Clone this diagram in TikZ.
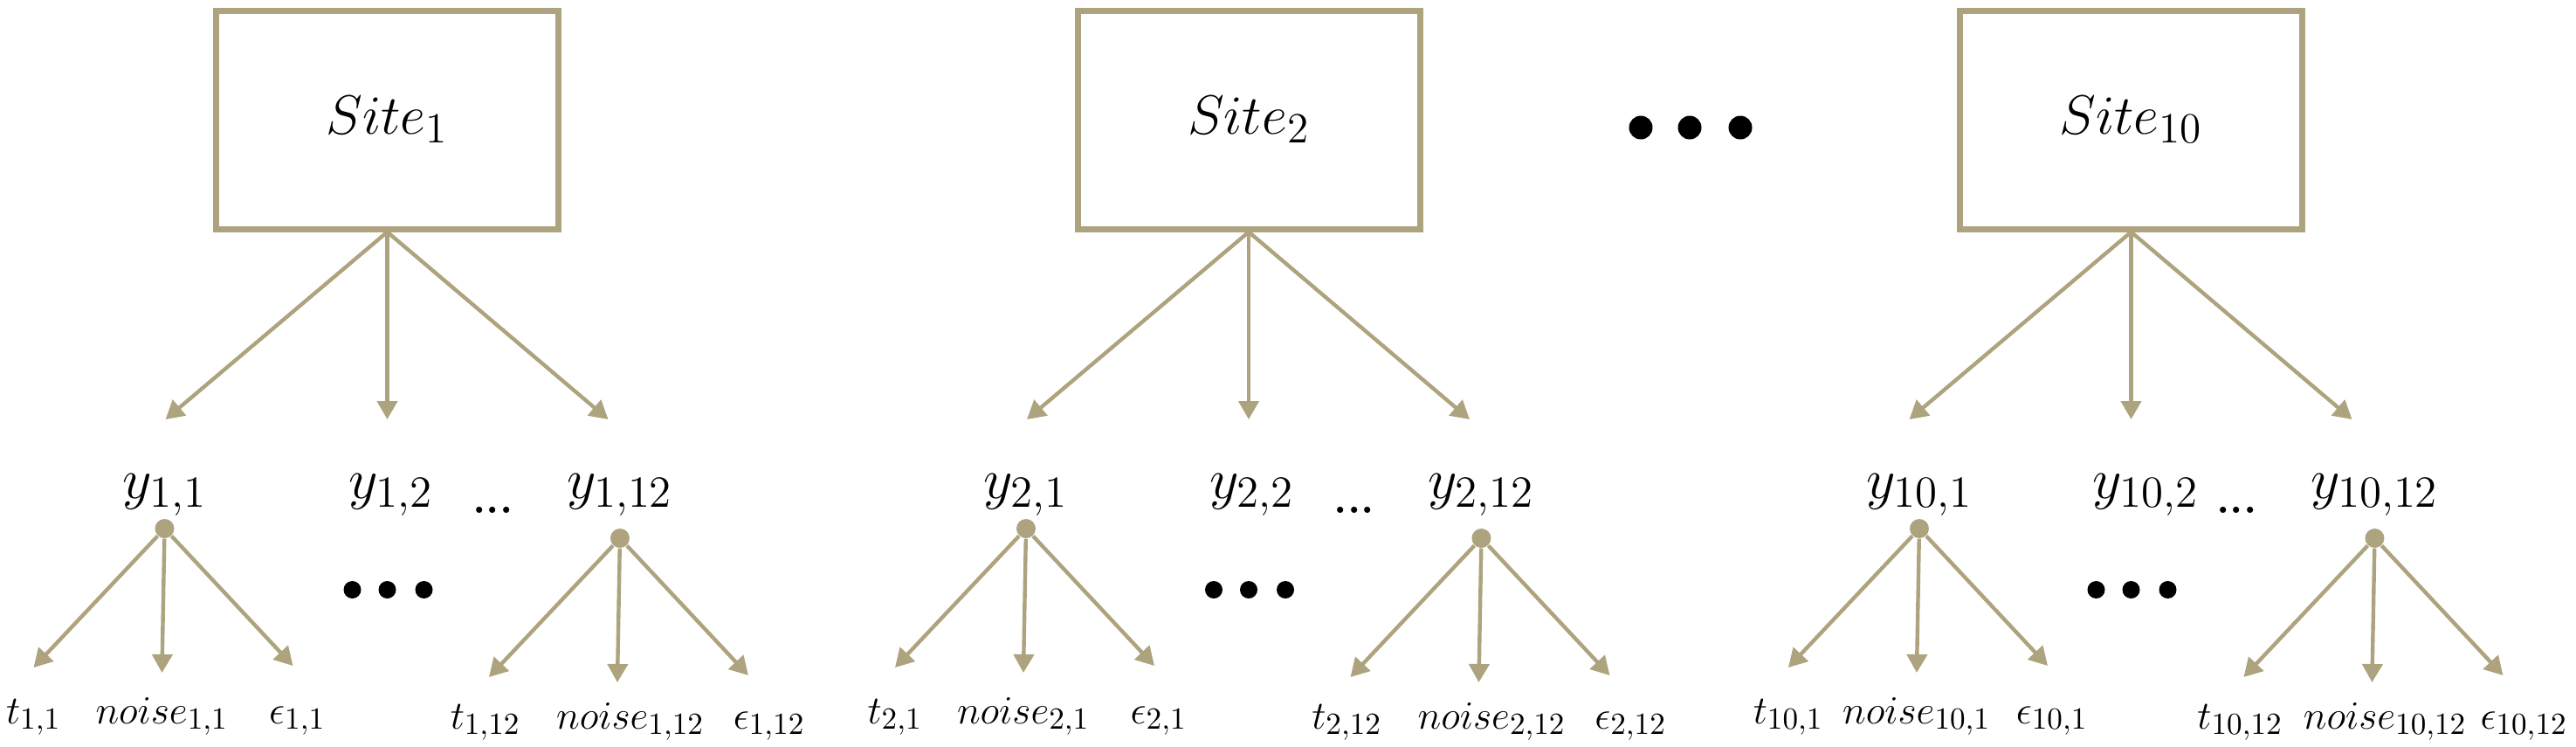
\documentclass[tikz,border=0pt]{standalone}
\usepackage{fix-cm}
\usetikzlibrary{arrows.meta}
\DeclareMathSizes{18}{18}{14}{11}
\DeclareMathSizes{18.5}{18.5}{14.5}{11.5}
\DeclareMathSizes{13}{13}{10}{8}
\definecolor{sitetan}{RGB}{173,163,126}
\tikzstyle{site} = [
  draw=sitetan,
  line width=0.07cm,
  rectangle,
  minimum width=3.92cm,
  minimum height=2.5cm,
  align=center,
  font=\fontsize{18}{21}\selectfont,
]
\tikzstyle{ylab} = [
  anchor=base west,
  inner sep=0pt,
  font=\fontsize{18.5}{22}\selectfont,
]
\tikzstyle{leaf} = [
  anchor=base,
  inner sep=0pt,
  font=\fontsize{13}{15}\selectfont,
]
\tikzstyle{hub} = [
  circle,
  fill=sitetan,
  inner sep=0pt,
  minimum size=0.22cm,
]
\tikzstyle{gapdot} = [
  circle,
  fill=black,
  inner sep=0pt,
  minimum size=0.2cm,
]
\tikzstyle{link} = [
  draw=sitetan,
  line width=1.25pt,
  -{Triangle[length=0.21cm,width=0.23cm]},
]

\begin{document}
\begin{tikzpicture}[
    auto,
  ]
  \useasboundingbox (0,0) rectangle (29.5,-8.54);
  % dots between site 2 and site 10
  \foreach \i/\x in {1/18.79, 2/19.35, 3/19.93}
    \node[gapdot, minimum size=0.27cm] (sitedots\i) at (\x,-1.46) {};
  \foreach \g/\x in {1/4.435, 2/14.30, 10/24.405} {
    \node[site] (site\g) at (\x,-1.37) {$Site_{\g}$};
    \coordinate (ta\g) at (\x-2.54,-4.80);
    \coordinate (tb\g) at (\x,-4.80);
    \coordinate (tc\g) at (\x+2.53,-4.80);
    \draw[link] (site\g.south) -- (ta\g);
    \draw[link] (site\g.south) -- (tb\g);
    \draw[link] (site\g.south) -- (tc\g);
    \node[ylab] (y\g-2) at (\x-0.45,-5.70) {$y_{\g,2}$};
    \node[
      ylab,
      font=\fontsize{14}{16}\selectfont\bfseries
    ](ydots\g) at (\x+0.97,-5.87) {...};
    \foreach \i/\dx in {1/-0.40, 2/0, 3/0.42}
      \node[gapdot] (leafdots\g-\i) at (\x+\dx,-6.75) {};
    % one small tree per y
    \foreach \k/\lx/\hy/\by/\ts/\ns/\es in {1/-3.04/-6.05/-8.28/0/0/0.05,
        12/2.05/-6.16/-8.34/-0.04/0.15/0.24} {
      \node[ylab] (y\g-\k) at (\x+\lx,-5.70) {$y_{\g,\k}$};
      \node[hub] (hub\g-\k) at (y\g-\k.south |- 0,\hy) {};
      \coordinate (la\g-\k) at ([shift={(-1.50,-1.59)}]hub\g-\k.center);
      \coordinate (lb\g-\k) at ([shift={(-0.03,-1.65)}]hub\g-\k.center);
      \coordinate (lc\g-\k) at ([shift={(1.47,-1.57)}]hub\g-\k.center);
      \draw[link] (hub\g-\k) -- (la\g-\k);
      \draw[link] (hub\g-\k) -- (lb\g-\k);
      \draw[link] (hub\g-\k) -- (lc\g-\k);
      \node[leaf, xshift=\ts cm] (t\g-\k) at (la\g-\k |- 0,\by) {$t_{\g,\k}$};
      \node[leaf, xshift=\ns cm] (noise\g-\k) at (lb\g-\k |- 0,\by) {$noise_{\g,\k}$};
      \node[leaf, xshift=\es cm] (eps\g-\k) at (lc\g-\k |- 0,\by) {$\epsilon_{\g,\k}$};
    }
  }
\end{tikzpicture}
\end{document}
